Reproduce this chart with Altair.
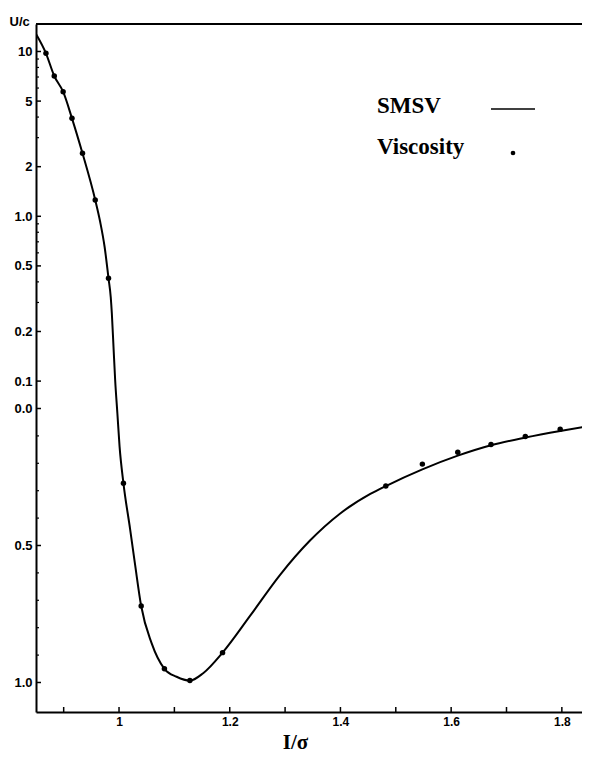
import math
import altair as alt
import pandas as pd

# ---- data ----
sigma_curve = [0.850, 0.868, 0.883, 0.899, 0.915, 0.934, 0.957, 0.966, 0.974, 0.981,
               0.985, 0.987, 0.990, 0.993, 0.997, 1.001, 1.008, 1.020, 1.029, 1.040,
               1.059, 1.082, 1.104, 1.128, 1.152, 1.187, 1.237, 1.291, 1.345,
               1.399, 1.454, 1.482, 1.548, 1.612, 1.672, 1.734, 1.797, 1.850]
u_curve = [12.77, 9.75, 7.10, 5.70, 3.93, 2.41, 1.256, 0.923, 0.651, 0.4205,
           0.324, 0.258, 0.1617, 0.1016, -0.0175, -0.139, -0.273, -0.440, -0.570, -0.721,
           -0.857, -0.950, -0.979, -0.993, -0.966, -0.891, -0.756, -0.607, -0.482,
           -0.384, -0.312, -0.283, -0.222, -0.172, -0.134, -0.106, -0.082, -0.064]

sigma_pts = [0.868, 0.883, 0.899, 0.915, 0.934, 0.957, 0.981, 1.008, 1.040, 1.082,
             1.128, 1.187, 1.482, 1.548, 1.612, 1.672, 1.734, 1.797]
u_pts = [9.75, 7.10, 5.70, 3.93, 2.41, 1.256, 0.4205, -0.273, -0.721, -0.950,
         -0.993, -0.891, -0.283, -0.203, -0.160, -0.131, -0.102, -0.076]

y_tick_values = [10, 5, 2, 1, 0.5, 0.2, 0.1, 0, -0.5, -1]
y_tick_labels = ["10", "5", "2", "1.0", "0.5", "0.2", "0.1", "0.0", "0.5", "1.0"]
y_minor_values = [9, 8, 7, 6, 4, 3, 0.9, 0.8, 0.7, 0.6, 0.4, 0.3,
                  -0.1, -0.2, -0.3, -0.4, -0.6, -0.7, -0.8, -0.9]
x_tick_values = [1.0, 1.2, 1.4, 1.6, 1.8]
x_tick_labels = ["1", "1.2", "1.4", "1.6", "1.8"]
x_minor_values = [0.9, 1.1, 1.3, 1.5, 1.7]
legend_labels = ["SMSV", "Viscosity"]

# ---- the figure's mixed y scale: linear below 0.1, logarithmic above ----
A, B = 0.7015, 0.6015


def S(u):
    return u if u < 0.1 else A + B * math.log10(u)


S_EXPR = f"datum.u < 0.1 ? datum.u : {A} + {B} * log(datum.u) / LN10"

W, H = 546, 688
xscale = alt.Scale(domain=[0.85, 1.8364], nice=False, zero=False)
yscale = alt.Scale(domain=[-1.1077, 1.4033], nice=False, zero=False)

major_S = [round(S(v), 4) for v in y_tick_values]


def nested_expr(vals, labels):
    expr = "''"
    for v, l in reversed(list(zip(vals, labels))):
        expr = f"abs(datum.value - ({v})) < 0.001 ? '{l}' : ({expr})"
    return expr


LABEL_FONT = "Liberation Sans Narrow, Liberation Sans, Arial"

xaxis = alt.Axis(values=x_tick_values, labelExpr=nested_expr(x_tick_values, x_tick_labels),
                 ticks=False, tickSize=0, grid=False, domainColor="black", domainWidth=2,
                 labelFont=LABEL_FONT, labelFontSize=12, labelFontWeight="bold",
                 labelColor="black", labelPadding=4, labelFlush=False, labelOverlap=False,
                 title="I/σ", titleFont="Liberation Serif", titleFontSize=21,
                 titleFontWeight="bold", titleColor="black", titleX=259, titleY=36,
                 titleBaseline="alphabetic", titleAlign="center")
yaxis = alt.Axis(values=major_S, labelExpr=nested_expr(major_S, y_tick_labels),
                 ticks=False, tickSize=0, grid=False, domainColor="black", domainWidth=2,
                 labelFont=LABEL_FONT, labelFontSize=13, labelFontWeight="bold",
                 labelColor="black", labelPadding=4, labelFlush=False, labelOverlap=False,
                 title="U/c", titleAngle=0, titleX=-27, titleY=1, titleAlign="left",
                 titleBaseline="alphabetic", titleFont="Liberation Sans", titleFontSize=13,
                 titleFontWeight="bold", titleColor="black")

X = alt.X("sigma:Q", scale=xscale, axis=xaxis)
Y = alt.Y("s:Q", scale=yscale, axis=yaxis)

curve_df = pd.DataFrame({"sigma": sigma_curve, "u": u_curve})
pts_df = pd.DataFrame({"sigma": sigma_pts, "u": u_pts})

line = alt.Chart(curve_df).transform_calculate(s=S_EXPR).mark_line(
    color="black", strokeWidth=2, interpolate="monotone", clip=True
).encode(x=X, y=Y)

points = alt.Chart(pts_df).transform_calculate(s=S_EXPR).mark_circle(
    color="black", size=30, opacity=1
).encode(x=X, y=Y)

ymaj = alt.Chart(pd.DataFrame({"u": y_tick_values})).transform_calculate(s=S_EXPR).mark_rule(
    color="black", strokeWidth=1.5
).encode(y=Y, x=alt.value(0), x2=alt.value(5))

ymin = alt.Chart(pd.DataFrame({"u": y_minor_values})).transform_calculate(s=S_EXPR).mark_rule(
    color="black", strokeWidth=1.2
).encode(y=Y, x=alt.value(0), x2=alt.value(3))

xt = alt.Chart(pd.DataFrame({"sigma": x_tick_values + x_minor_values})).mark_rule(
    color="black", strokeWidth=1.5
).encode(x=X, y=alt.value(H), y2=alt.value(H - 5))

top = alt.Chart(pd.DataFrame({"a": [0]})).mark_rule(color="black", strokeWidth=2).encode(
    x=alt.value(0), x2=alt.value(W), y=alt.value(0)
)

leg_text1 = alt.Chart(pd.DataFrame({"label": [legend_labels[0]]})).mark_text(
    align="left", baseline="alphabetic", font="Liberation Serif", fontSize=23,
    fontWeight="bold", color="black"
).encode(text="label:N", x=alt.value(341), y=alt.value(89))

leg_text2 = alt.Chart(pd.DataFrame({"label": [legend_labels[1]]})).mark_text(
    align="left", baseline="alphabetic", font="Liberation Serif", fontSize=23,
    fontWeight="bold", color="black"
).encode(text="label:N", x=alt.value(341), y=alt.value(130))

leg_line = alt.Chart(pd.DataFrame({"a": [0]})).mark_rule(color="black", strokeWidth=1.5).encode(
    x=alt.value(455), x2=alt.value(499), y=alt.value(85)
)

leg_dot = alt.Chart(pd.DataFrame({"a": [0]})).mark_circle(color="black", size=22, opacity=1).encode(
    x=alt.value(477), y=alt.value(129)
)

chart = alt.layer(
    line, points, ymaj, ymin, xt, top, leg_text1, leg_text2, leg_line, leg_dot
).properties(
    width=W, height=H,
    autosize=alt.AutoSizeParams(type="none"),
    padding={"left": 28, "top": 16, "right": 0, "bottom": 41},
    background="white",
).configure_view(stroke=None)

chart.save("out.html", embed_options={"renderer": "svg", "actions": False})
